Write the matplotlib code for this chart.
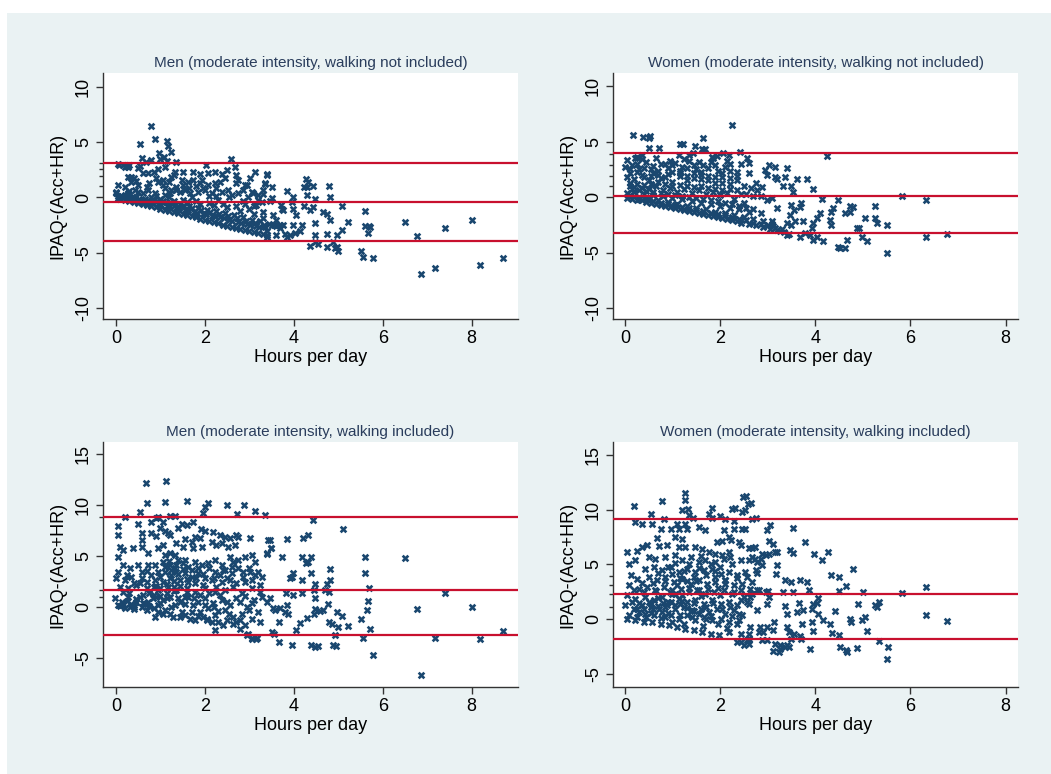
import numpy as np
import matplotlib.pyplot as plt
from matplotlib.patches import Rectangle

plt.rcParams['font.family'] = ['Liberation Sans', 'DejaVu Sans']

# ---- data (hours per day, IPAQ-(Acc+HR)) ----
men_no_walk = [
    (6.5, -2.25), (6.76, -3.5), (6.85, -6.9), (7.17, -6.4), (7.41, -2.8), (8.0, -2.0), (8.19, -6.1), (8.7, -5.5),
    (5.61, -1.2), (5.6, -2.6), (5.68, -2.6), (5.72, -2.7), (5.66, -3.2), (5.52, -4.8), (5.56, -5.4), (5.77, -5.5),
    (5.22, -2.25), (5.08, -2.9), (5.08, -0.75), (4.98, -3.4), (4.89, -4.0), (4.96, -4.5), (5.0, -4.8), (4.92, -4.6),
    (4.78, 1.05), (4.81, 0.05), (4.81, -2.0), (4.74, -1.5), (4.66, -1.3), (4.74, -3.3), (4.74, -4.5),
    (4.48, -2.35), (4.48, -3.4), (4.48, -4.0), (4.55, -4.2), (4.37, -4.4),
    (4.28, 1.7), (4.33, 1.4), (4.29, 0.95), (4.42, 1.0), (4.22, 0.95), (4.3, 0.2), (4.48, -0.1), (4.44, -0.85),
    (4.36, -1.15), (4.22, -0.75), (4.18, -2.5), (4.14, -3.0),
    (3.99, 0.05), (3.95, -0.4), (3.85, 0.6), (3.99, -1.0), (4.06, -1.6), (3.99, -2.5), (4.03, -3.2), (3.91, -3.4),
    (3.84, -3.6), (3.8, -3.3), (3.76, -2.45), (3.69, -2.5), (3.61, -3.4), (3.71, -0.7), (3.76, -1.15), (3.54, -1.6),
    (3.55, -2.5), (3.5, 0.95), (3.39, 2.0), (3.35, 1.25), (3.46, -0.35), (3.31, 0.35), (3.39, -3.0), (3.39, -3.6),
    (0.8, 6.5), (0.89, 5.26), (0.55, 4.8), (1.15, 5.14), (1.18, 4.66), (1.24, 4.1), (0.97, 4.05), (1.09, 3.7),
    (0.58, 3.6), (0.8, 3.4), (0.99, 3.45), (1.14, 3.33), (1.36, 3.18), (0.67, 3.18), (0.05, 3.0), (0.2, 2.75),
    (0.28, 2.8), (0.5, 2.7), (0.55, 2.85), (0.95, 2.6), (1.1, 2.8), (2.02, 2.9), (2.58, 3.48), (2.68, 2.73),
    (3.13, 2.33), (3.4, 2.1), (1.74, 2.27), (2.08, 2.24), (2.23, 2.33), (2.38, 2.1), (2.49, 2.48), (0.85, 2.3),
    (0.61, 2.18), (0.73, 2.18), (1.3, 2.0), (1.33, 2.33), (1.25, 1.88), (0.28, 1.88), (0.35, 1.43), (0.05, 1.13),
    (0.2, 0.97), (0.5, 1.13), (0.69, 0.97), (0.95, 1.43), (1.06, 1.58), (1.48, 1.58), (1.63, 1.43), (1.74, 1.58),
    (1.93, 1.58), (1.89, 1.28), (2.08, 1.13), (2.23, 1.28), (2.34, 1.43), (2.45, 1.73), (2.75, 1.58), (2.71, 1.28),
    (3.01, 1.73), (2.9, 1.13), (3.05, 0.52), (3.2, 0.22), (3.35, 1.28), (3.31, 0.67), (3.5, -0.08), (3.73, -1.08),
    (0.08, 2.95), (0.15, 2.9), (0.25, 2.85), (0.3, 2.9), (0.35, 1.9), (0.4, 1.8),
    (0.0, 0.37), (0.05, 0.13), (0.13, 0.0), (0.01, 0.52), (0.2, 0.22), (0.28, 0.37), (0.43, 0.67), (0.5, 0.52),
    (0.73, 0.67), (0.88, 0.37), (0.8, 0.07), (1.1, 0.82), (1.25, 0.67), (1.21, 0.37), (1.36, 0.97), (1.44, 0.52),
    (1.55, 0.67), (1.66, 0.37), (1.85, 0.52), (2.0, 0.67), (2.15, 0.37), (2.26, 0.82), (2.38, 0.52), (2.53, 0.67),
    (2.6, 0.22), (2.75, 0.37), (2.86, 0.67), (2.98, 0.07), (3.09, 0.37), (3.2, -0.23), (3.28, -0.38),
    (0.1, -0.1), (0.2, -0.2), (0.3, -0.3), (0.4, -0.4), (0.5, -0.5), (0.6, -0.6), (0.7, -0.7), (0.8, -0.8),
    (0.9, -0.9), (1.0, -1.0), (1.1, -1.1), (1.2, -1.2), (1.3, -1.3), (1.4, -1.4), (1.5, -1.5), (1.6, -1.6),
    (1.7, -1.7), (1.8, -1.8), (1.9, -1.95), (2.0, -2.05), (2.1, -2.15), (2.2, -2.25), (2.3, -2.35), (2.4, -2.45),
    (2.5, -2.55), (2.6, -2.65), (2.7, -2.75), (2.8, -2.85), (2.9, -2.95), (3.0, -3.05), (3.1, -3.15), (3.2, -3.25),
    (3.3, -3.35), (3.4, -3.4),
    (0.15, 0.0), (0.35, -0.15), (0.55, -0.3), (0.75, -0.45), (0.95, -0.6), (1.15, -0.8), (1.35, -0.95),
    (1.55, -1.1), (1.75, -1.3), (1.95, -1.45), (2.15, -1.65), (2.35, -1.8), (2.55, -2.0), (2.75, -2.2),
    (2.95, -2.4), (3.15, -2.6), (3.35, -2.7),
    (0.25, 0.2), (0.45, 0.05), (0.65, -0.1), (0.85, -0.2), (1.05, -0.35), (1.25, -0.5), (1.45, -0.6),
    (1.65, -0.75), (1.85, -0.95), (2.05, -1.1), (2.25, -1.25), (2.45, -1.4), (2.65, -1.6), (2.85, -1.8),
    (3.05, -2.0), (3.25, -2.1),
    (1.0, -0.1), (1.3, -0.3), (1.6, -0.4), (1.9, -0.6), (2.2, -0.7), (2.5, -0.9), (2.8, -1.2), (3.1, -1.5),
    (1.1, 0.2), (1.7, 0.0), (2.3, -0.2), (2.9, -0.6), (3.3, -1.9), (3.45, -2.4), (3.5, -2.5), (3.6, -2.6),
    (0.05, -0.02), (0.12, 0.1), (0.22, 0.05), (0.32, 0.0), (0.42, -0.2), (0.52, -0.1), (0.62, -0.35),
    (0.72, -0.25), (0.82, -0.5), (0.92, -0.35), (1.02, -0.65), (1.12, -0.45), (1.22, -0.8), (1.32, -0.65),
    (1.42, -0.95), (1.52, -0.8), (1.62, -1.15), (1.72, -0.95), (1.82, -1.4), (1.92, -1.15), (2.02, -1.5),
    (2.12, -1.3), (2.22, -1.7), (2.32, -1.5), (2.42, -1.9), (2.52, -1.7), (2.62, -2.1), (2.72, -1.9),
    (2.82, -2.3), (2.92, -2.1), (3.02, -2.5), (3.12, -2.3), (3.22, -2.7), (3.32, -2.5),
    (0.3, 0.6), (0.6, 0.4), (0.9, 0.15), (1.2, 0.0), (1.5, -0.2), (1.8, -0.3), (2.1, -0.5), (2.4, -0.55),
    (2.7, -0.8), (3.0, -1.0), (0.45, 1.5), (0.75, 1.3), (1.05, 1.1), (1.35, 0.7), (1.65, 0.9), (1.95, 0.9),
    (2.25, 0.1), (2.55, 0.0), (2.85, -0.3), (3.15, -0.7), (1.2, 1.4), (1.5, 1.1), (1.8, 1.0), (2.1, 0.1),
    (0.9, 1.8), (1.5, 2.3), (1.9, 2.1), (2.7, 2.0), (2.95, 1.1), (3.1, -0.8), (3.3, -1.3), (3.6, -2.0),
    (3.7, -2.8),
]

women_no_walk = [
    (2.25, 6.55), (0.18, 5.6), (0.39, 5.45), (0.5, 5.3), (0.52, 5.5), (1.16, 4.8), (1.23, 4.75), (1.64, 5.3),
    (1.48, 4.6), (1.62, 4.3), (1.69, 4.3), (0.5, 4.4), (0.71, 4.4), (4.25, 3.7), (2.42, 4.1), (2.07, 3.96),
    (2.18, 3.8), (1.93, 3.7), (1.83, 3.6), (1.34, 3.8), (1.44, 3.96), (1.13, 3.8), (0.36, 3.8), (0.22, 3.5),
    (0.04, 3.37), (2.56, 3.5), (2.6, 3.06), (3.02, 2.9), (3.16, 2.76), (3.4, 2.6), (2.95, 2.45), (2.98, 2.0),
    (3.16, 1.85), (3.19, 1.6), (3.37, 1.8), (3.61, 1.6), (3.82, 1.6), (3.96, 0.7), (3.33, 1.0), (3.5, 1.0),
    (3.54, 0.5), (5.82, 0.1), (6.32, -0.3), (6.32, -3.57), (6.76, -3.33), (5.5, -5.0), (5.5, -2.5), (5.26, -0.8),
    (5.26, -1.9), (5.3, -2.3), (5.05, -1.9), (5.08, -4.0), (4.98, -3.6), (4.88, -2.8), (4.92, -2.8),
    (4.73, -0.8), (4.79, -0.85), (4.73, -1.3), (4.62, -1.45), (4.66, -3.9), (4.62, -4.6), (4.48, -4.5),
    (4.52, -4.55), (4.48, -0.25), (4.38, -1.0), (4.34, -1.3), (4.31, -2.05), (4.34, -2.5), (4.17, -4.0),
    (4.03, -3.6), (3.96, -3.9), (4.14, -0.2), (4.1, -1.45), (4.03, -1.9), (3.96, -2.35), (3.93, -2.8),
    (3.89, -3.4), (3.79, -3.27), (3.68, -3.57), (3.75, -2.2), (3.71, -0.55), (3.68, -0.85), (3.5, -0.7),
    (3.55, -1.15), (3.47, -1.6), (3.4, -2.35), (3.5, -2.5), (3.58, -2.2), (3.26, -3.1), (3.4, -3.4),
    (3.09, -2.2), (3.12, -2.65), (3.09, -0.1), (2.98, -0.25), (2.85, 0.1), (3.19, -1.0), (2.77, 0.65),
    (2.88, 0.95),
    (0.05, -0.05), (0.15, -0.15), (0.25, -0.25), (0.35, -0.3), (0.45, -0.4), (0.55, -0.5), (0.65, -0.6),
    (0.75, -0.7), (0.85, -0.8), (0.95, -0.9), (1.05, -0.95), (1.15, -1.05), (1.25, -1.15), (1.35, -1.25),
    (1.45, -1.35), (1.55, -1.45), (1.65, -1.55), (1.75, -1.65), (1.85, -1.7), (1.95, -1.8), (2.05, -1.9),
    (2.15, -2.0), (2.25, -2.1), (2.35, -2.2), (2.45, -2.3), (2.6, -2.4), (2.75, -2.55), (2.9, -2.7),
    (3.05, -2.85), (3.2, -3.0), (3.35, -3.15), (3.45, -3.3),
    (0.1, 0.2), (0.3, 0.0), (0.5, -0.15), (0.7, -0.3), (0.9, -0.45), (1.1, -0.6), (1.3, -0.8), (1.5, -0.95),
    (1.7, -1.1), (1.9, -1.3), (2.1, -1.45), (2.3, -1.6), (2.5, -1.8), (2.7, -2.0), (2.9, -2.2), (3.1, -2.4),
    (0.05, 0.4), (0.2, 0.5), (0.4, 0.3), (0.6, 0.2), (0.8, 0.1), (1.0, -0.1), (1.2, -0.2), (1.4, -0.35),
    (1.6, -0.5), (1.8, -0.6), (2.0, -0.8), (2.2, -1.0), (2.4, -1.1), (2.6, -1.3),
    (0.1, 1.0), (0.2, 0.9), (0.35, 0.8), (0.5, 0.7), (0.65, 1.0), (0.8, 0.6), (0.95, 0.8), (1.1, 0.5),
    (1.25, 0.7), (1.4, 0.4), (1.55, 0.6), (1.7, 0.3), (1.85, 0.5), (2.0, 0.2), (2.15, 0.4), (2.3, -0.2),
    (2.5, -0.5), (2.45, 0.3),
    (0.05, 1.8), (0.2, 1.6), (0.35, 2.0), (0.5, 1.5), (0.6, 2.2), (0.75, 1.7), (0.9, 2.1), (1.0, 1.4),
    (1.15, 1.9), (1.3, 1.5), (1.45, 2.2), (1.6, 1.6), (1.75, 1.9), (1.9, 1.3), (2.05, 1.8), (2.2, 1.2),
    (2.35, 1.5), (2.5, 1.0), (2.65, 0.8),
    (0.0, 2.7), (0.15, 2.9), (0.3, 2.5), (0.45, 3.2), (0.6, 2.8), (0.75, 3.0), (0.9, 2.6), (1.05, 3.1),
    (1.2, 2.7), (1.35, 3.3), (1.5, 2.5), (1.65, 2.9), (1.8, 3.2), (1.95, 2.4), (2.1, 2.7), (2.2, 3.0),
    (2.35, 2.3), (0.25, 3.6),
    (0.1, 0.0), (0.3, -0.15), (0.45, -0.2), (0.6, -0.35), (0.75, -0.5), (0.9, -0.6), (1.05, -0.75),
    (1.2, -0.85), (1.35, -1.0), (1.5, -1.15), (1.65, -1.25), (1.8, -1.4), (1.95, -1.55), (2.1, -1.65),
    (2.25, -1.8), (2.4, -1.95), (2.55, -2.1), (2.7, -2.3), (2.85, -2.45), (3.0, -2.55), (3.15, -2.75),
    (3.3, -2.9),
    (0.15, 0.7), (0.3, 0.6), (0.45, 0.55), (0.6, 0.5), (0.75, 0.35), (0.9, 0.3), (1.05, 0.15), (1.2, 0.1),
    (1.35, 0.0), (1.5, -0.1), (1.65, -0.2), (1.8, -0.25), (1.95, -0.35), (2.1, -0.55), (2.25, -0.6),
    (2.4, -0.8), (2.55, -0.95), (2.7, -1.1), (2.85, -1.4),
    (0.1, 1.3), (0.25, 1.2), (0.4, 1.1), (0.55, 1.2), (0.7, 1.35), (0.85, 1.2), (1.0, 1.0), (1.15, 1.1),
    (1.3, 1.0), (1.45, 0.9), (1.6, 1.0), (1.75, 0.8), (1.9, 0.7), (2.05, 0.6), (2.2, 0.7), (2.35, 0.6),
    (2.55, 0.3), (2.7, 0.1),
    (0.1, 2.2), (0.25, 2.3), (0.4, 1.8), (0.55, 1.9), (0.7, 2.0), (0.85, 1.8), (1.0, 2.3), (1.15, 2.2),
    (1.3, 1.9), (1.45, 1.7), (1.6, 2.0), (1.75, 1.5), (1.9, 1.8), (2.05, 1.3), (2.2, 1.7), (2.35, 1.9),
    (0.1, 2.5), (0.25, 3.0), (0.4, 2.6), (0.55, 2.5), (0.7, 2.4), (0.85, 3.0), (1.0, 2.9), (1.15, 2.4),
    (1.3, 2.6), (1.45, 2.9), (1.6, 2.3), (1.75, 2.6), (1.9, 2.9), (2.05, 2.2), (2.2, 2.4), (0.35, 3.4),
    (0.65, 3.5), (0.95, 3.3), (1.25, 3.4), (1.55, 3.2), (1.85, 3.5), (2.15, 3.3), (2.45, 3.0), (2.75, 1.3),
    (2.6, 2.2),
]

men_walk = [
    (0.67, 12.2), (1.12, 12.4), (0.7, 10.2), (1.11, 10.36), (1.6, 10.46), (2.06, 10.2), (2.0, 9.87),
    (2.49, 10.07), (2.88, 10.07), (2.73, 9.15), (3.13, 9.48), (3.35, 9.05), (1.96, 9.28), (4.42, 8.56),
    (5.1, 7.7), (6.5, 4.8), (5.61, 4.97), (5.61, 3.4), (5.7, 1.86), (5.66, 0.62), (5.64, -0.26), (5.71, -2.16),
    (5.52, -1.18), (5.56, -2.97), (5.77, -4.67), (5.22, -1.83), (5.08, -0.85), (4.98, -0.42), (5.0, -1.9),
    (4.92, -2.7), (4.89, -3.7), (4.95, -3.8), (4.81, 3.8), (4.81, 2.7), (4.78, 1.5), (4.76, 0.3), (4.74, 2.3),
    (4.7, 1.7), (4.85, -1.6), (4.78, -1.45), (4.66, -0.26), (4.59, -0.33), (4.48, 2.25), (4.45, 1.7),
    (4.48, 0.88), (4.48, -0.2), (4.46, -0.6), (4.39, 3.33), (4.33, 4.48), (4.27, 4.3), (4.38, 4.97),
    (4.33, 7.1), (4.21, 6.76), (4.18, 4.97), (4.38, -3.7), (4.48, -3.92), (4.55, -3.8), (4.18, 2.68),
    (4.18, 1.37), (4.29, -1.08), (4.14, -1.57), (4.06, -2.22), (3.99, 3.33), (3.95, 3.0), (3.91, 2.84),
    (3.99, 1.2), (3.85, 6.67), (3.73, 4.97), (3.82, 1.37), (3.84, 0.23), (3.8, -0.42), (3.88, -0.6),
    (3.69, -0.1), (3.66, -1.4), (3.66, -3.37), (3.97, -3.7), (3.46, 6.6), (3.48, 5.78), (3.39, 5.29),
    (3.54, -0.1), (3.58, -0.26), (3.39, 0.55), (3.46, 0.88), (3.5, -2.4), (3.55, -2.65), (3.17, -3.04),
    (3.06, -3.04), (2.95, -2.7), (6.76, -0.2), (6.85, -6.6), (7.17, -3.0), (7.41, 1.4), (8.0, 0.0),
    (8.19, -3.1), (8.7, -2.3),
    (0.55, 9.31), (0.2, 8.88), (0.91, 8.78), (0.95, 8.88), (1.21, 8.95), (1.33, 8.95), (0.05, 8.0),
    (0.05, 7.08), (0.5, 8.13), (0.8, 8.33), (1.06, 8.39), (0.99, 7.74), (1.1, 7.48), (1.18, 7.25),
    (1.21, 7.08), (0.58, 7.25), (0.58, 6.6), (0.8, 7.25), (0.91, 7.02), (1.4, 7.74), (1.48, 8.13),
    (1.59, 8.07), (1.74, 8.33), (1.91, 7.67), (2.0, 7.51), (2.19, 7.41), (2.34, 7.08), (2.45, 6.92),
    (2.56, 6.76), (2.71, 7.08), (2.75, 6.92), (1.78, 6.92), (1.89, 6.82), (1.55, 6.69), (1.7, 6.43),
    (1.36, 6.27), (1.51, 5.94), (1.74, 5.78), (1.93, 5.94), (2.15, 6.43), (2.26, 6.1), (2.38, 6.27),
    (2.53, 5.94), (2.68, 6.1), (3.01, 6.76), (3.43, 6.6), (3.49, 5.78), (3.39, 5.19),
    (0.09, 5.94), (0.16, 5.61), (0.39, 5.78), (0.58, 5.94), (0.05, 4.96), (0.73, 5.28), (0.95, 5.78),
    (1.06, 6.1), (1.1, 5.12), (1.21, 5.28), (1.33, 5.12), (1.4, 4.63), (1.06, 4.47), (1.21, 4.14),
    (1.33, 3.81), (1.51, 4.3), (1.63, 3.98), (1.78, 4.47), (1.93, 4.14), (2.08, 4.3), (2.23, 4.63),
    (2.38, 4.14), (2.56, 4.96), (2.64, 4.47), (2.75, 4.63), (2.9, 4.96), (3.05, 5.12), (3.13, 4.47),
    (3.2, 3.49), (3.28, 3.0), (3.01, 3.49), (3.13, 3.16), (2.75, 3.81), (2.86, 3.49), (2.45, 3.65),
    (2.6, 3.32), (2.23, 3.49), (2.34, 3.16), (0.05, 3.49), (0.16, 4.14), (0.31, 3.81), (0.5, 4.14),
    (0.58, 3.49), (0.73, 4.14), (0.88, 4.14), (0.95, 3.49), (0.8, 3.16), (1.1, 3.49), (1.25, 3.16),
    (1.36, 3.49), (1.55, 3.32), (1.7, 3.0), (1.85, 3.32), (2.0, 2.83), (2.15, 2.67),
    (0.01, 2.83), (0.2, 2.67), (0.35, 3.0), (0.58, 2.83), (0.69, 2.5), (0.88, 2.67), (1.06, 2.5),
    (1.21, 2.83), (1.44, 2.67), (1.63, 2.5), (1.78, 2.34), (1.96, 2.18), (2.38, 2.5), (2.56, 2.67),
    (2.71, 2.34), (2.9, 2.5), (3.05, 2.67), (3.24, 2.18), (0.09, 2.02), (0.28, 1.85), (0.46, 2.18),
    (0.69, 1.85), (0.95, 1.69), (1.18, 2.02), (1.36, 1.69), (1.59, 1.85), (1.78, 1.52), (2.0, 1.85),
    (2.23, 1.52), (2.45, 1.69), (2.64, 2.02), (2.83, 1.36), (3.05, 1.85), (3.24, 1.52), (3.28, 1.03),
    (-0.02, 0.87), (0.05, 0.22), (0.13, 0.54), (0.28, 1.03), (0.31, 0.05), (0.46, 0.54), (0.54, 1.03),
    (0.58, 0.05), (0.73, 0.54), (0.69, -0.27), (0.84, 0.87), (0.95, 0.22), (1.06, 0.71), (1.1, -0.27),
    (1.21, 1.03), (1.33, 0.22), (1.44, 0.54), (1.48, -0.44), (1.63, 1.03), (1.74, 0.22), (1.85, 0.54),
    (1.89, -0.44), (2.0, 0.87), (2.08, -0.11), (2.19, 0.38), (2.23, -0.76), (2.38, 0.71), (2.45, -0.27),
    (2.56, 0.22), (2.64, -0.93), (2.79, 0.54), (2.83, -0.6), (2.94, 0.05), (3.05, -1.09), (3.05, 0.38),
    (3.2, -0.44), (3.24, -1.42), (1.55, -0.76), (1.66, -1.09), (1.78, -1.25), (1.21, -0.6), (1.29, -0.93),
    (1.96, -0.93), (2.04, -1.25), (2.15, -1.42), (2.3, -1.42), (2.41, -1.75), (2.49, -1.25), (2.64, -1.58),
    (2.71, -1.42), (2.79, -2.07), (2.23, -2.24), (0.95, -0.44), (0.88, -0.93), (2.9, -1.75), (2.98, -2.56),
    (3.05, -3.05), (3.16, -3.05),
    (0.1, 0.1), (0.2, -0.1), (0.35, 0.3), (0.4, -0.2), (0.6, 0.4), (0.75, 0.1), (0.85, 1.2), (1.0, 1.1),
    (0.15, 0.3), (0.25, 0.6), (0.4, 0.0), (0.45, 0.8), (0.6, 1.2), (0.65, 0.3), (0.75, 1.4), (0.85, -0.1),
    (0.9, 1.0), (1.0, 0.4), (1.05, -0.6), (1.15, 1.4), (1.25, 0.0), (1.3, 1.6), (1.4, 0.9), (1.45, -0.9),
    (1.55, 0.3), (1.6, 1.5), (1.7, -0.5), (1.75, 0.9), (1.85, -0.8), (1.9, 1.2), (2.0, 0.2), (2.05, -1.1),
    (2.1, 1.4), (2.2, 0.0), (2.3, -0.4), (2.35, 1.2), (2.5, 0.5), (2.55, -0.6), (2.7, 0.9), (2.8, -1.2),
    (2.9, 1.1), (3.0, -0.3), (3.1, 0.7),
    (0.9, 2.1), (1.0, 3.0), (1.1, 4.0), (1.15, 2.3), (1.2, 4.5), (1.25, 3.7), (1.3, 2.6), (1.35, 4.2),
    (1.4, 3.3), (1.45, 2.1), (1.5, 3.8), (1.55, 4.6), (1.6, 2.8), (1.7, 3.7), (1.8, 2.9), (1.85, 3.9),
    (1.95, 3.3), (2.1, 3.9), (2.2, 2.9), (2.4, 3.7), (2.5, 2.9), (2.6, 4.0), (0.7, 3.6), (0.55, 2.4),
    (0.4, 2.4), (0.25, 3.2), (0.3, 1.4), (0.15, 1.5), (1.0, 1.9), (1.3, 2.0), (1.55, 1.0), (0.85, 2.0),
    (1.15, 0.9), (2.25, 2.0), (2.85, 3.0), (3.0, 3.9),
]

women_walk = [
    (6.76, -0.15), (6.32, 2.94), (6.32, 0.36), (5.82, 2.4), (5.5, -3.58), (5.52, -2.52), (5.33, -1.97),
    (5.33, 1.58), (5.26, 1.34), (5.29, 1.12), (5.08, -1.06), (5.05, 0.21), (4.98, -0.09), (5.01, 2.49),
    (4.9, 1.43), (4.87, -2.58), (4.8, 4.58), (4.73, 0.06), (4.75, -0.24), (4.65, 3.0), (4.65, -2.82),
    (4.66, -2.97), (4.52, -2.52), (4.49, 3.85), (4.49, 2.55), (4.49, -1.46), (4.42, 0.73), (4.33, 4.07),
    (4.32, -0.45), (4.35, -1.24), (4.26, 6.13), (4.14, 5.37), (4.17, -0.03), (4.06, 1.97), (4.03, 1.49),
    (4.06, 0.46), (3.97, 5.92), (3.96, 1.43), (3.93, 0.97), (3.93, -0.24), (3.95, -1.06), (3.88, -2.67),
    (3.79, 7.04), (3.82, 3.4), (3.86, 2.64), (3.75, 0.82), (3.72, -0.39), (3.68, 3.55), (3.65, 1.49),
    (3.61, 0.67), (3.7, -1.76), (3.68, -1.55), (3.54, 6.04), (3.53, 8.35), (3.46, 6.28), (3.37, 3.55),
    (3.49, 3.4), (3.54, 2.49), (3.4, 0.52), (3.37, 1.18), (3.4, -0.7), (3.44, -1.15), (3.55, -1.3),
    (3.48, -1.76), (3.4, -2.37), (3.44, -2.52), (3.26, -2.37), (3.26, -2.67), (3.12, -2.88), (3.16, -2.21),
    (3.33, 2.49), (3.19, 4.92), (3.18, 4.16), (3.16, 6.13), (3.05, 8.56), (2.98, 8.1), (3.02, 7.13),
    (3.12, 6.89), (3.12, -1.0), (3.13, -0.24), (2.98, 1.43), (3.02, 2.03), (2.96, 2.49), (3.0, 2.55),
    (2.88, 5.98), (2.96, 5.83), (2.84, -0.7), (2.91, -1.15), (2.88, -1.91), (2.98, -0.7), (2.68, 9.17),
    (2.58, 10.53), (2.48, 11.14), (2.46, 9.77), (2.46, 8.26), (2.25, 10.08), (2.77, 4.22), (2.76, 4.52),
    (2.77, 5.22), (2.74, 5.52), (2.6, 5.43), (2.6, 6.52), (2.56, 3.85), (2.63, 2.79), (2.63, 2.03),
    (2.6, 1.43), (2.77, 2.64), (2.81, 2.64), (2.77, 0.88), (2.63, -0.7), (2.6, -1.3), (2.5, -2.37),
    (2.56, -1.91), (2.35, -2.06), (2.39, 0.52),
    (1.27, 11.53), (1.26, 10.83), (0.77, 10.74), (0.19, 10.32), (2.55, 11.2), (2.65, 10.62), (1.2, 9.98),
    (1.33, 10.01), (0.55, 9.56), (1.34, 9.47), (1.83, 10.17), (1.76, 9.62), (1.83, 9.23), (1.43, 9.26),
    (2.32, 10.14), (2.52, 9.92), (1.99, 9.38), (2.1, 9.16), (2.76, 9.23), (2.3, 8.92), (0.82, 9.1),
    (0.57, 8.71), (0.22, 8.86), (0.35, 8.71), (1.1, 8.71), (1.26, 8.65), (0.75, 8.19), (0.96, 8.25),
    (1.13, 8.25), (1.31, 8.25), (1.55, 8.41), (1.69, 8.16), (2.08, 8.1), (2.29, 8.19), (2.53, 8.25),
    (1.06, 7.5), (1.2, 7.34), (0.68, 7.4), (1.94, 7.04), (2.04, 7.1), (2.18, 7.5), (2.22, 7.19),
    (2.39, 7.04), (2.43, 6.74), (2.67, 6.49), (2.74, 6.58), (0.36, 6.58), (0.47, 6.74), (0.05, 6.13),
    (0.26, 6.19), (0.71, 6.68), (0.89, 6.8), (1.13, 6.58), (1.27, 6.58), (1.48, 6.58), (1.63, 6.43),
    (1.76, 6.13), (1.9, 5.98), (2.04, 5.83), (2.18, 6.13), (2.67, 5.67), (2.85, 5.52), (2.88, 4.92),
    (3.02, 5.98), (3.2, 6.13), (0.08, 5.07), (0.22, 5.37), (0.5, 5.67), (0.64, 5.52), (0.85, 5.67),
    (1.06, 5.83), (1.2, 5.37), (1.38, 5.67), (1.55, 5.22), (1.69, 5.37), (1.9, 5.22), (2.08, 5.52),
    (2.25, 5.07), (2.43, 5.37), (0.43, 4.61), (0.61, 4.76), (0.78, 4.46), (0.96, 4.76), (1.13, 4.31),
    (1.31, 4.61), (1.48, 4.31), (1.66, 4.46), (1.83, 4.61), (2.01, 4.16), (2.18, 4.31), (2.36, 4.0),
    (2.53, 4.31), (0.12, 4.0), (0.26, 3.7), (0.5, 3.85), (0.68, 3.55), (0.85, 3.85), (1.03, 3.4),
    (1.2, 3.7), (1.38, 3.25), (1.55, 3.55), (1.73, 3.25), (1.9, 3.4), (2.11, 3.55), (2.29, 3.09),
    (2.46, 3.25), (2.67, 3.4), (0.08, 3.09), (0.29, 2.79), (0.47, 2.94), (0.64, 2.64), (0.82, 2.94),
    (0.99, 2.64), (1.17, 2.79), (1.34, 2.49), (1.52, 2.64), (1.69, 2.34), (1.87, 2.49), (2.08, 2.64),
    (2.25, 2.34), (2.43, 2.64), (2.67, 2.34), (0.05, 2.18), (0.22, 1.88), (0.43, 2.03), (0.61, 1.73),
    (0.78, 2.03), (0.96, 1.58), (1.13, 1.88), (1.31, 1.58), (1.48, 1.73), (1.66, 1.43), (1.83, 1.73),
    (2.01, 1.43), (2.18, 1.58), (2.36, 1.27), (2.57, 1.58), (0.01, 1.27), (0.19, 0.97), (0.36, 1.27),
    (0.54, 1.12), (0.71, 0.97), (0.89, 1.27), (1.06, 0.97), (1.24, 1.12), (1.41, 0.82), (1.59, 0.97),
    (1.76, 0.67), (1.94, 0.97), (2.11, 0.51), (2.29, 0.82), (2.46, 0.36), (0.08, 0.36), (0.26, 0.21),
    (0.43, 0.51), (0.61, 0.36), (0.78, 0.67), (0.96, 0.36), (1.13, 0.06), (1.31, 0.36), (1.48, -0.09),
    (1.66, 0.21), (1.83, -0.09), (2.01, 0.06), (2.18, -0.24), (2.36, -0.4), (0.05, 0.06), (0.22, -0.09),
    (0.4, -0.24), (0.57, -0.24), (0.75, -0.4), (0.92, -0.55), (1.1, -0.7), (1.27, -0.85), (1.45, -1.0),
    (1.62, -1.15), (1.8, -1.31), (1.97, -1.46), (2.18, -1.15), (2.43, -1.31), (2.6, -1.76), (2.81, -1.15),
    (2.99, -1.91), (2.43, -2.07), (2.6, -2.22), (3.23, -2.98), (3.37, -2.52),
    (0.3, 1.5), (0.55, 1.4), (0.7, 1.2), (0.9, 1.6), (1.0, 2.3), (1.15, 1.4), (0.4, 0.9), (0.85, 0.2),
    (0.3, 0.7), (0.45, 0.2), (0.5, 1.6), (0.6, 0.9), (0.7, 1.9), (0.75, 0.1), (0.8, 1.5), (0.9, 0.6),
    (0.95, 2.5), (1.0, -0.2), (1.05, 1.3), (1.1, 3.1), (1.15, 0.4), (1.2, 2.2), (1.25, -0.4), (1.3, 1.0),
    (1.35, 2.9), (1.4, 0.2), (1.45, 1.5), (1.5, 3.5), (1.55, 0.5), (1.6, 2.1), (1.65, -0.6), (1.7, 1.1),
    (1.75, 2.8), (1.8, 0.3), (1.85, 1.5), (1.9, 3.9), (1.95, -0.4), (2.0, 2.2), (2.05, 0.9), (2.1, 3.2),
    (2.15, -0.8), (2.2, 1.1), (2.3, 2.5), (2.4, -0.1), (2.45, 1.8),
    (0.6, 3.3), (0.7, 4.2), (0.85, 3.5), (0.9, 4.8), (1.0, 4.1), (1.05, 5.1), (1.15, 3.8), (1.25, 4.4),
    (1.35, 5.0), (1.45, 3.9), (1.55, 4.7), (1.6, 5.8), (1.7, 4.0), (1.8, 5.0), (1.9, 4.4), (2.0, 4.8),
    (2.1, 3.6), (2.2, 5.7), (0.4, 2.5), (0.35, 3.3), (0.2, 2.7), (0.15, 1.6), (0.25, 0.9), (0.55, 0.6),
    (0.85, 1.1), (1.2, 1.7), (1.45, 0.8), (1.7, 0.0), (2.25, 0.3), (0.65, 2.6), (1.05, 2.3), (1.3, 3.5),
    (1.55, 2.7), (1.95, 2.9), (2.35, 3.8), (2.5, 2.0),
]

titles = ["Men (moderate intensity, walking not included)",
          "Women (moderate intensity, walking not included)",
          "Men (moderate intensity, walking included)",
          "Women (moderate intensity, walking included)"]
panels = [men_no_walk, women_no_walk, men_walk, women_walk]

# mean difference and limits of agreement
ref_lines = [[3.1, -0.45, -3.95], [3.95, 0.12, -3.2], [8.9, 1.7, -2.75], [9.15, 2.3, -1.8]]
y_ticks = [[-10, -5, 0, 5, 10], [-10, -5, 0, 5, 10], [-5, 0, 5, 10, 15], [-5, 0, 5, 10, 15]]
y_minor = [[3.15, 2.55, 1.95, 1.05], [3.9, 2.9, 1.95, 1.0], [8.9, 2.7, 1.7, 1.0], [3.92, 3.1, 2.34, 1.12]]
x_ticks = [0, 2, 4, 6, 8]

W, H = 1051, 774
# axes boxes in pixels: left, right, top, bottom
boxes = [(103, 518, 73, 319), (613, 1018, 73, 319), (103, 518, 442, 687), (613, 1018, 442, 687)]
xlims = [(-0.29, 9.04), (-0.25, 8.26), (-0.29, 9.04), (-0.25, 8.26)]
ylims = [(-11.0, 11.27), (-11.0, 11.2), (-7.8, 16.2), (-6.16, 16.15)]

navy = '#1a476f'
red = '#c8102e'
bg = '#eaf2f3'

fig = plt.figure(figsize=(W / 100, H / 100), dpi=100)
fig.patch.set_facecolor('white')
fig.add_artist(Rectangle((7 / W, 0), 1, (H - 13) / H, transform=fig.transFigure,
                         facecolor=bg, edgecolor='none', zorder=0))

for i in range(4):
    l, r, t, b = boxes[i]
    ax = fig.add_axes([l / W, 1 - b / H, (r - l) / W, (b - t) / H])
    ax.set_facecolor('white')
    pts = np.array(panels[i])
    ax.scatter(pts[:, 0], pts[:, 1], s=30, marker='X', color=navy, linewidths=0, zorder=2)
    for v in ref_lines[i]:
        ax.axhline(v, color=red, lw=1.6, zorder=3)
    ax.set_xlim(*xlims[i])
    ax.set_ylim(*ylims[i])
    ax.set_xticks(x_ticks)
    ax.set_yticks(y_ticks[i])
    ax.set_yticks(y_minor[i], minor=True)
    ax.set_yticklabels([str(v) for v in y_ticks[i]], rotation=90, va='center')
    ax.tick_params(axis='both', which='major', labelsize=13, length=5, width=1, color='#333333', pad=3)
    ax.tick_params(axis='y', which='minor', length=3, width=1, color='#333333')
    for s in ['top', 'right']:
        ax.spines[s].set_visible(False)
    for s in ['left', 'bottom']:
        ax.spines[s].set_color('#333333')
        ax.spines[s].set_linewidth(1.0)
    ax.set_xlabel('Hours per day', fontsize=13, labelpad=1)
    ax.set_ylabel('IPAQ-(Acc+HR)', fontsize=13, labelpad=6)
    ax.set_title(titles[i], fontsize=11, color='#2a3d5c', pad=4)

fig.savefig('out.png', dpi=100)
